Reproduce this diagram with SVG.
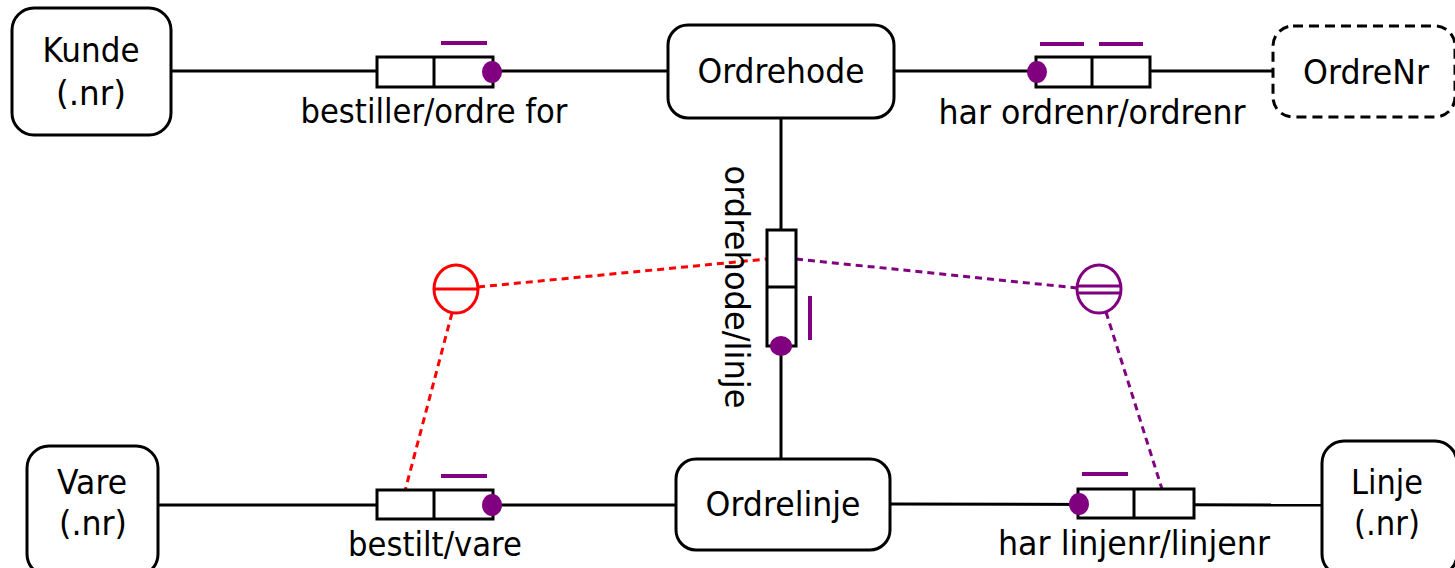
<svg xmlns="http://www.w3.org/2000/svg" width="1455" height="568" viewBox="0 0 1455 568">
<style>
.ent{fill:#fff;stroke:#000;stroke-width:3}
.dash{fill:#fff;stroke:#000;stroke-width:3;stroke-dasharray:10 6}
.ln{stroke:#000;stroke-width:3;fill:none}
.rel{fill:#fff;stroke:#000;stroke-width:3}
.dot{fill:#800080}
.bar{stroke:#800080;stroke-width:4}
.t{font-family:"DejaVu Sans",sans-serif;font-size:34px;fill:#000;text-anchor:middle}
.rd{stroke:#ff0000;stroke-width:3;stroke-dasharray:7 5;fill:none}
.pd{stroke:#800080;stroke-width:3;stroke-dasharray:7 5;fill:none}
</style>
<g id="connectors">
<line class="ln" x1="171" y1="71" x2="668" y2="71"/>
<line class="ln" x1="894" y1="71" x2="1273" y2="71"/>
<line class="ln" x1="781" y1="118" x2="781" y2="459"/>
<line class="ln" x1="158" y1="505" x2="676" y2="505"/>
<line class="ln" x1="890" y1="504" x2="1322" y2="505"/>
<line class="rd" x1="478" y1="287" x2="767" y2="259"/>
<line class="rd" x1="452" y1="313" x2="405" y2="491"/>
<line class="pd" x1="796" y1="259" x2="1077" y2="288"/>
<line class="pd" x1="1106" y1="312" x2="1162" y2="489"/>
</g>
<g id="kunde">
<rect class="ent" x="12" y="8" width="159" height="127" rx="22"/>
<text class="t" x="91" y="62" textLength="97" lengthAdjust="spacingAndGlyphs">Kunde</text>
<text class="t" x="91" y="105" textLength="70" lengthAdjust="spacingAndGlyphs">(.nr)</text>
</g>
<g id="ordrehode">
<rect class="ent" x="668" y="25" width="226" height="93" rx="20"/>
<text class="t" x="781" y="83" textLength="167" lengthAdjust="spacingAndGlyphs">Ordrehode</text>
</g>
<g id="ordrenr">
<rect class="dash" x="1273" y="26" width="182" height="91" rx="20"/>
<text class="t" x="1366" y="84" textLength="126" lengthAdjust="spacingAndGlyphs">OrdreNr</text>
</g>
<g id="vare">
<rect class="ent" x="27" y="446" width="131" height="130" rx="22"/>
<text class="t" x="92" y="494" textLength="70" lengthAdjust="spacingAndGlyphs">Vare</text>
<text class="t" x="93" y="535" textLength="68" lengthAdjust="spacingAndGlyphs">(.nr)</text>
</g>
<g id="ordrelinje">
<rect class="ent" x="676" y="459" width="214" height="91" rx="20"/>
<text class="t" x="783" y="516" textLength="155" lengthAdjust="spacingAndGlyphs">Ordrelinje</text>
</g>
<g id="linje">
<rect class="ent" x="1322" y="441" width="135" height="135" rx="22"/>
<text class="t" x="1387" y="494" textLength="72" lengthAdjust="spacingAndGlyphs">Linje</text>
<text class="t" x="1387" y="535" textLength="66" lengthAdjust="spacingAndGlyphs">(.nr)</text>
</g>
<g id="rel-bestiller">
<rect class="rel" x="377" y="57" width="116" height="30"/>
<line class="ln" x1="434" y1="57" x2="434" y2="87"/>
<ellipse class="dot" cx="492" cy="72" rx="10" ry="11"/>
<line class="bar" x1="441" y1="43" x2="487" y2="43"/>
<text class="t" x="434" y="123" textLength="267" lengthAdjust="spacingAndGlyphs">bestiller/ordre for</text>
</g>
<g id="rel-ordrenr">
<rect class="rel" x="1036" y="57" width="114" height="30"/>
<line class="ln" x1="1092" y1="57" x2="1092" y2="87"/>
<ellipse class="dot" cx="1037" cy="72" rx="10" ry="11"/>
<line class="bar" x1="1040" y1="44" x2="1084" y2="44"/>
<line class="bar" x1="1099" y1="44" x2="1143" y2="44"/>
<text class="t" x="1092" y="124" textLength="307" lengthAdjust="spacingAndGlyphs">har ordrenr/ordrenr</text>
</g>
<g id="rel-ordrehode-linje">
<rect class="rel" x="767" y="230" width="29" height="116"/>
<line class="ln" x1="767" y1="287" x2="796" y2="287"/>
<ellipse class="dot" cx="781" cy="346" rx="11" ry="10"/>
<line class="bar" x1="810" y1="296" x2="810" y2="340"/>
<text class="t" transform="translate(725 287) rotate(90)" x="0" y="0" textLength="243" lengthAdjust="spacingAndGlyphs">ordrehode/linje</text>
</g>
<g id="rel-bestilt">
<rect class="rel" x="377" y="490" width="116" height="29"/>
<line class="ln" x1="434" y1="490" x2="434" y2="519"/>
<ellipse class="dot" cx="492" cy="505" rx="10" ry="11"/>
<line class="bar" x1="441" y1="476" x2="487" y2="476"/>
<text class="t" x="435" y="556" textLength="174" lengthAdjust="spacingAndGlyphs">bestilt/vare</text>
</g>
<g id="rel-linjenr">
<rect class="rel" x="1078" y="489" width="116" height="29"/>
<line class="ln" x1="1134" y1="489" x2="1134" y2="518"/>
<ellipse class="dot" cx="1079" cy="504" rx="10" ry="11"/>
<line class="bar" x1="1082" y1="474" x2="1128" y2="474"/>
<text class="t" x="1134" y="555" textLength="272" lengthAdjust="spacingAndGlyphs">har linjenr/linjenr</text>
</g>
<g id="constraint-exclusion">
<ellipse cx="456" cy="289" rx="22" ry="24" fill="#fff" stroke="#ff0000" stroke-width="3"/>
<line x1="434" y1="289" x2="478" y2="289" stroke="#ff0000" stroke-width="3"/>
</g>
<g id="constraint-uniqueness">
<ellipse cx="1099" cy="289" rx="22" ry="24" fill="#fff" stroke="#800080" stroke-width="3"/>
<line x1="1077" y1="286" x2="1121" y2="286" stroke="#800080" stroke-width="3"/>
<line x1="1077" y1="293" x2="1121" y2="293" stroke="#800080" stroke-width="3"/>
</g>
</svg>
